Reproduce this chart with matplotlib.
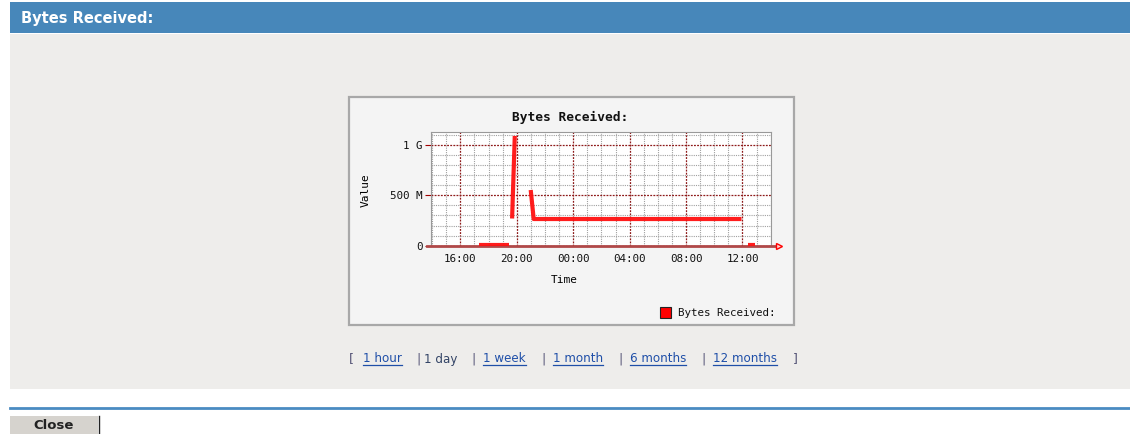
import numpy as np
import matplotlib.pyplot as plt
from matplotlib.patches import Rectangle
from matplotlib.ticker import FixedLocator, MultipleLocator

# data: hours since midnight of first day (24 = 00:00 next day), value in G
seg_hours = [[17.33, 19.45], [19.67, 19.86], [20.99, 21.2, 35.93], [36.4, 36.88]]
seg_values = [[0.005, 0.005], [0.27, 1.09], [0.553, 0.265, 0.265], [0.005, 0.005]]

xtick_hours = [16, 20, 24, 28, 32, 36]
xtick_labels = ["16:00", "20:00", "00:00", "04:00", "08:00", "12:00"]
ytick_vals = [0, 0.5, 1.0]
ytick_labels = ["0", "500 M", "1 G"]

links = ["1 hour", "1 day", "1 week", "1 month", "6 months", "12 months"]
link_x = [363, 424, 483, 553, 630, 713]
pipe_x = [416, 471, 541, 618, 701]

W, H = 1130, 434
fig = plt.figure(figsize=(W / 100, H / 100), dpi=100)
fig.patch.set_facecolor("white")

# page background drawn in pixel coordinates
bg = fig.add_axes([0, 0, 1, 1])
bg.set_xlim(0, W)
bg.set_ylim(H, 0)
bg.axis("off")

bg.add_patch(Rectangle((10, 2), W - 10, 31, facecolor="#4787BA", edgecolor="none"))
bg.add_patch(Rectangle((10, 34), W - 10, 355, facecolor="#EEEDEB", edgecolor="none"))
bg.text(21, 18.5, "Bytes Received:", color="white", fontsize=10.5, fontweight="bold",
        family="DejaVu Sans", va="center", ha="left")

# chart box
bg.add_patch(Rectangle((349, 97), 445, 228, facecolor="#F4F4F4", edgecolor="#A8A8A8", lw=1.6))
bg.text(570, 117, "Bytes Received:", fontsize=9.3, fontweight="bold",
        family="DejaVu Sans Mono", ha="center", va="center", color="#111111")

# legend
bg.add_patch(Rectangle((660, 307), 11, 11, facecolor="#FF0000", edgecolor="#222222", lw=0.8))
bg.text(678, 312.5, "Bytes Received:", fontsize=7.8, family="DejaVu Sans Mono",
        ha="left", va="center", color="#111111")

# period links
link_color = "#1F4FA8"
bg.text(349, 359, "[", fontsize=9, color="#555577", va="center", ha="left")
bg.text(793, 359, "]", fontsize=9, color="#555577", va="center", ha="left")
for px in pipe_x:
    bg.text(px, 359, "|", fontsize=9, color="#555577", va="center", ha="left")
for lbl, lx in zip(links, link_x):
    col = "#334466" if lbl == "1 day" else link_color
    t = bg.text(lx, 359, lbl, fontsize=8.6, color=col, va="center", ha="left",
                family="DejaVu Sans")
    if lbl != "1 day":
        fig.canvas.draw()
        w = t.get_window_extent().width
        bg.plot([lx, lx + w], [365, 365], color=link_color, lw=0.9)

# separator and close button
bg.plot([10, W], [407.5, 407.5], color="#4A8BC2", lw=2)
bg.add_patch(Rectangle((10, 416), 88, 20, facecolor="#D6D3CE", edgecolor="none"))
bg.plot([98.5, 98.5], [416, 434], color="#222222", lw=1)
bg.text(54, 425.5, "Close", fontsize=9.5, fontweight="bold", family="DejaVu Sans",
        ha="center", va="center", color="#222222")

# chart axes
left, right, top, bottom = 430.7, 770.7, 132.0, 245.7
ax = fig.add_axes([left / W, (H - bottom) / H, (right - left) / W, (bottom - top) / H])
ax.set_facecolor("white")
ax.set_xlim(13.9, 38.0)
ax.set_ylim(0, 1.129)

for hx, vy in zip(seg_hours, seg_values):
    ax.plot(hx, vy, color="#FF1010", lw=3, solid_capstyle="butt", zorder=5, alpha=0.95)

ax.xaxis.set_major_locator(FixedLocator(xtick_hours))
ax.set_xticklabels(xtick_labels)
ax.xaxis.set_minor_locator(MultipleLocator(1))
ax.yaxis.set_major_locator(FixedLocator(ytick_vals))
ax.set_yticklabels(ytick_labels)
ax.yaxis.set_minor_locator(MultipleLocator(0.1))

ax.grid(which="major", color="#8E1A1A", linestyle=(0, (1.5, 1)), lw=0.9)
ax.grid(which="minor", color="#A0A0A0", linestyle=(0, (1, 1)), lw=0.8)
ax.set_axisbelow(True)

ax.tick_params(axis="x", which="both", length=0, pad=6, labelsize=7.8, labelcolor="#111111")
ax.tick_params(axis="y", which="major", length=4, color="#A00000", pad=2,
               labelsize=7.8, labelcolor="#111111")
ax.tick_params(axis="y", which="minor", length=0)
for lab in ax.get_xticklabels() + ax.get_yticklabels():
    lab.set_family("DejaVu Sans Mono")

for s in ["left", "top", "right"]:
    ax.spines[s].set_color("#999999")
    ax.spines[s].set_linestyle((0, (1, 1)))
    ax.spines[s].set_linewidth(0.8)
ax.spines["bottom"].set_visible(False)
ax.plot([-0.01, 1.02], [0, 0], transform=ax.transAxes, color="#B04848", lw=2,
        clip_on=False, zorder=4)
ax.plot([1.025], [0], transform=ax.transAxes, marker=">", markersize=5,
        markerfacecolor="#FFD0D0", markeredgecolor="#FF0000", clip_on=False, zorder=7)

ax.set_xlabel("Time", family="DejaVu Sans Mono", fontsize=8)
ax.xaxis.set_label_coords((564 - left) / (right - left), (bottom - 275) / (bottom - top))
ax.set_ylabel("Value", family="DejaVu Sans Mono", fontsize=8)
ax.yaxis.set_label_coords((371 - left) / (right - left), (bottom - 190) / (bottom - top))

fig.savefig("out.png", dpi=100)
